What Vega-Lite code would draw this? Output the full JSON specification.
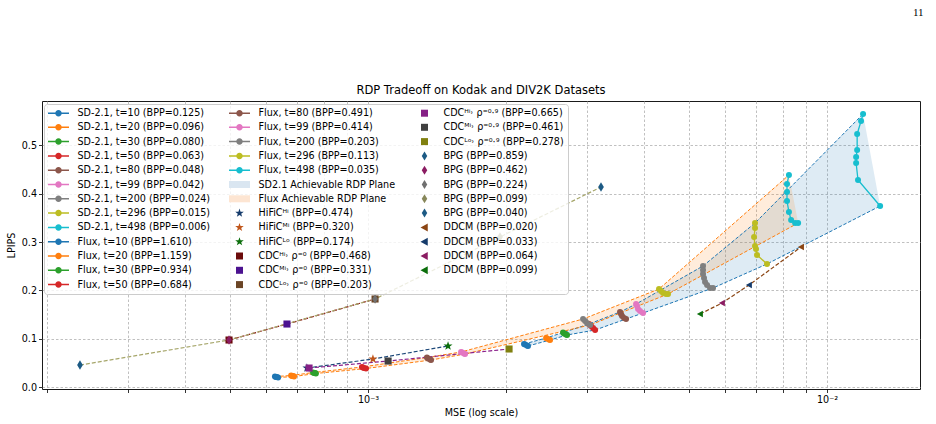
{
  "$schema": "https://vega.github.io/schema/vega-lite/v6.json",
  "width": 878,
  "height": 288,
  "autosize": {"type": "none"},
  "padding": {"left": 42, "top": 101, "right": 16, "bottom": 35},
  "background": "white",
  "title": {"text": "RDP Tradeoff on Kodak and DIV2K Datasets", "font": "DejaVu Sans", "fontSize": 11.5, "fontWeight": "normal", "color": "#000000", "anchor": "middle", "offset": 5, "dy": 95},
  "config": {
    "font": "DejaVu Sans",
    "view": {"stroke": "#1a1a1a", "strokeWidth": 1},
    "axis": {
      "domain": false, "gridColor": "#b0b0b0", "gridDash": [2.5, 2], "gridWidth": 0.8,
      "tickColor": "#000000", "tickWidth": 0.8, "tickSize": 3.5,
      "labelColor": "#000000", "titleColor": "#000000", "labelFont": "DejaVu Sans", "titleFont": "DejaVu Sans",
      "labelFontSize": 9.6, "titleFontSize": 9.6, "titleFontWeight": "normal"
    }
  },
  "datasets": {
    "curves": [
      {"series": "SD-2.1, t=10 (BPP=0.125)", "model": "SD", "t": 10, "i": 1, "mse": 0.002187, "lpips": 0.0890},
      {"series": "SD-2.1, t=10 (BPP=0.125)", "model": "SD", "t": 10, "i": 2, "mse": 0.002198, "lpips": 0.0880},
      {"series": "SD-2.1, t=10 (BPP=0.125)", "model": "SD", "t": 10, "i": 3, "mse": 0.002220, "lpips": 0.0859},
      {"series": "SD-2.1, t=10 (BPP=0.125)", "model": "SD", "t": 10, "i": 4, "mse": 0.002231, "lpips": 0.0849},
      {"series": "SD-2.1, t=20 (BPP=0.096)", "model": "SD", "t": 20, "i": 1, "mse": 0.002443, "lpips": 0.1014},
      {"series": "SD-2.1, t=20 (BPP=0.096)", "model": "SD", "t": 20, "i": 2, "mse": 0.002455, "lpips": 0.1004},
      {"series": "SD-2.1, t=20 (BPP=0.096)", "model": "SD", "t": 20, "i": 3, "mse": 0.002479, "lpips": 0.0983},
      {"series": "SD-2.1, t=20 (BPP=0.096)", "model": "SD", "t": 20, "i": 4, "mse": 0.002492, "lpips": 0.0973},
      {"series": "SD-2.1, t=30 (BPP=0.080)", "model": "SD", "t": 30, "i": 1, "mse": 0.002660, "lpips": 0.1128},
      {"series": "SD-2.1, t=30 (BPP=0.080)", "model": "SD", "t": 30, "i": 2, "mse": 0.002673, "lpips": 0.1108},
      {"series": "SD-2.1, t=30 (BPP=0.080)", "model": "SD", "t": 30, "i": 3, "mse": 0.002700, "lpips": 0.1087},
      {"series": "SD-2.1, t=30 (BPP=0.080)", "model": "SD", "t": 30, "i": 4, "mse": 0.002714, "lpips": 0.1077},
      {"series": "SD-2.1, t=50 (BPP=0.063)", "model": "SD", "t": 50, "i": 1, "mse": 0.003031, "lpips": 0.1304},
      {"series": "SD-2.1, t=50 (BPP=0.063)", "model": "SD", "t": 50, "i": 2, "mse": 0.003061, "lpips": 0.1263},
      {"series": "SD-2.1, t=50 (BPP=0.063)", "model": "SD", "t": 50, "i": 3, "mse": 0.003093, "lpips": 0.1222},
      {"series": "SD-2.1, t=50 (BPP=0.063)", "model": "SD", "t": 50, "i": 4, "mse": 0.003124, "lpips": 0.1180},
      {"series": "SD-2.1, t=80 (BPP=0.048)", "model": "SD", "t": 80, "i": 1, "mse": 0.003540, "lpips": 0.1553},
      {"series": "SD-2.1, t=80 (BPP=0.048)", "model": "SD", "t": 80, "i": 2, "mse": 0.003558, "lpips": 0.1511},
      {"series": "SD-2.1, t=80 (BPP=0.048)", "model": "SD", "t": 80, "i": 3, "mse": 0.003576, "lpips": 0.1470},
      {"series": "SD-2.1, t=80 (BPP=0.048)", "model": "SD", "t": 80, "i": 4, "mse": 0.003612, "lpips": 0.1429},
      {"series": "SD-2.1, t=80 (BPP=0.048)", "model": "SD", "t": 80, "i": 5, "mse": 0.003649, "lpips": 0.1408},
      {"series": "SD-2.1, t=99 (BPP=0.042)", "model": "SD", "t": 99, "i": 1, "mse": 0.003837, "lpips": 0.1718},
      {"series": "SD-2.1, t=99 (BPP=0.042)", "model": "SD", "t": 99, "i": 2, "mse": 0.003856, "lpips": 0.1677},
      {"series": "SD-2.1, t=99 (BPP=0.042)", "model": "SD", "t": 99, "i": 3, "mse": 0.003875, "lpips": 0.1615},
      {"series": "SD-2.1, t=99 (BPP=0.042)", "model": "SD", "t": 99, "i": 4, "mse": 0.003914, "lpips": 0.1573},
      {"series": "SD-2.1, t=99 (BPP=0.042)", "model": "SD", "t": 99, "i": 5, "mse": 0.003973, "lpips": 0.1532},
      {"series": "SD-2.1, t=200 (BPP=0.024)", "model": "SD", "t": 200, "i": 1, "mse": 0.005368, "lpips": 0.2505},
      {"series": "SD-2.1, t=200 (BPP=0.024)", "model": "SD", "t": 200, "i": 2, "mse": 0.005368, "lpips": 0.2422},
      {"series": "SD-2.1, t=200 (BPP=0.024)", "model": "SD", "t": 200, "i": 3, "mse": 0.005368, "lpips": 0.2340},
      {"series": "SD-2.1, t=200 (BPP=0.024)", "model": "SD", "t": 200, "i": 4, "mse": 0.005395, "lpips": 0.2257},
      {"series": "SD-2.1, t=200 (BPP=0.024)", "model": "SD", "t": 200, "i": 5, "mse": 0.005423, "lpips": 0.2174},
      {"series": "SD-2.1, t=200 (BPP=0.024)", "model": "SD", "t": 200, "i": 6, "mse": 0.005478, "lpips": 0.2112},
      {"series": "SD-2.1, t=200 (BPP=0.024)", "model": "SD", "t": 200, "i": 7, "mse": 0.005561, "lpips": 0.2050},
      {"series": "SD-2.1, t=200 (BPP=0.024)", "model": "SD", "t": 200, "i": 8, "mse": 0.005644, "lpips": 0.2050},
      {"series": "SD-2.1, t=296 (BPP=0.015)", "model": "SD", "t": 296, "i": 1, "mse": 0.006968, "lpips": 0.3395},
      {"series": "SD-2.1, t=296 (BPP=0.015)", "model": "SD", "t": 296, "i": 2, "mse": 0.006968, "lpips": 0.3292},
      {"series": "SD-2.1, t=296 (BPP=0.015)", "model": "SD", "t": 296, "i": 3, "mse": 0.006934, "lpips": 0.3106},
      {"series": "SD-2.1, t=296 (BPP=0.015)", "model": "SD", "t": 296, "i": 4, "mse": 0.006968, "lpips": 0.2919},
      {"series": "SD-2.1, t=296 (BPP=0.015)", "model": "SD", "t": 296, "i": 5, "mse": 0.007003, "lpips": 0.2857},
      {"series": "SD-2.1, t=296 (BPP=0.015)", "model": "SD", "t": 296, "i": 6, "mse": 0.007038, "lpips": 0.2733},
      {"series": "SD-2.1, t=296 (BPP=0.015)", "model": "SD", "t": 296, "i": 7, "mse": 0.007400, "lpips": 0.2547},
      {"series": "SD-2.1, t=498 (BPP=0.006)", "model": "SD", "t": 498, "i": 1, "mse": 0.01198, "lpips": 0.5652},
      {"series": "SD-2.1, t=498 (BPP=0.006)", "model": "SD", "t": 498, "i": 2, "mse": 0.01186, "lpips": 0.5507},
      {"series": "SD-2.1, t=498 (BPP=0.006)", "model": "SD", "t": 498, "i": 3, "mse": 0.01163, "lpips": 0.5238},
      {"series": "SD-2.1, t=498 (BPP=0.006)", "model": "SD", "t": 498, "i": 4, "mse": 0.01163, "lpips": 0.4907},
      {"series": "SD-2.1, t=498 (BPP=0.006)", "model": "SD", "t": 498, "i": 5, "mse": 0.01157, "lpips": 0.4762},
      {"series": "SD-2.1, t=498 (BPP=0.006)", "model": "SD", "t": 498, "i": 6, "mse": 0.01157, "lpips": 0.4638},
      {"series": "SD-2.1, t=498 (BPP=0.006)", "model": "SD", "t": 498, "i": 7, "mse": 0.01168, "lpips": 0.4286},
      {"series": "SD-2.1, t=498 (BPP=0.006)", "model": "SD", "t": 498, "i": 8, "mse": 0.01305, "lpips": 0.3747},
      {"series": "Flux, t=10 (BPP=1.610)", "model": "Flux", "t": 10, "i": 1, "mse": 0.000627, "lpips": 0.0217},
      {"series": "Flux, t=10 (BPP=1.610)", "model": "Flux", "t": 10, "i": 2, "mse": 0.000630, "lpips": 0.0207},
      {"series": "Flux, t=10 (BPP=1.610)", "model": "Flux", "t": 10, "i": 3, "mse": 0.000633, "lpips": 0.0207},
      {"series": "Flux, t=10 (BPP=1.610)", "model": "Flux", "t": 10, "i": 4, "mse": 0.000637, "lpips": 0.0197},
      {"series": "Flux, t=20 (BPP=1.159)", "model": "Flux", "t": 20, "i": 1, "mse": 0.000680, "lpips": 0.0238},
      {"series": "Flux, t=20 (BPP=1.159)", "model": "Flux", "t": 20, "i": 2, "mse": 0.000683, "lpips": 0.0228},
      {"series": "Flux, t=20 (BPP=1.159)", "model": "Flux", "t": 20, "i": 3, "mse": 0.000687, "lpips": 0.0228},
      {"series": "Flux, t=20 (BPP=1.159)", "model": "Flux", "t": 20, "i": 4, "mse": 0.000690, "lpips": 0.0217},
      {"series": "Flux, t=30 (BPP=0.934)", "model": "Flux", "t": 30, "i": 1, "mse": 0.000759, "lpips": 0.0300},
      {"series": "Flux, t=30 (BPP=0.934)", "model": "Flux", "t": 30, "i": 2, "mse": 0.000763, "lpips": 0.0290},
      {"series": "Flux, t=30 (BPP=0.934)", "model": "Flux", "t": 30, "i": 3, "mse": 0.000767, "lpips": 0.0290},
      {"series": "Flux, t=30 (BPP=0.934)", "model": "Flux", "t": 30, "i": 4, "mse": 0.000770, "lpips": 0.0280},
      {"series": "Flux, t=50 (BPP=0.684)", "model": "Flux", "t": 50, "i": 1, "mse": 0.000970, "lpips": 0.0414},
      {"series": "Flux, t=50 (BPP=0.684)", "model": "Flux", "t": 50, "i": 2, "mse": 0.000975, "lpips": 0.0404},
      {"series": "Flux, t=50 (BPP=0.684)", "model": "Flux", "t": 50, "i": 3, "mse": 0.000980, "lpips": 0.0393},
      {"series": "Flux, t=50 (BPP=0.684)", "model": "Flux", "t": 50, "i": 4, "mse": 0.000990, "lpips": 0.0383},
      {"series": "Flux, t=80 (BPP=0.491)", "model": "Flux", "t": 80, "i": 1, "mse": 0.001344, "lpips": 0.0611},
      {"series": "Flux, t=80 (BPP=0.491)", "model": "Flux", "t": 80, "i": 2, "mse": 0.001351, "lpips": 0.0590},
      {"series": "Flux, t=80 (BPP=0.491)", "model": "Flux", "t": 80, "i": 3, "mse": 0.001365, "lpips": 0.0569},
      {"series": "Flux, t=80 (BPP=0.491)", "model": "Flux", "t": 80, "i": 4, "mse": 0.001372, "lpips": 0.0559},
      {"series": "Flux, t=99 (BPP=0.414)", "model": "Flux", "t": 99, "i": 1, "mse": 0.001595, "lpips": 0.0725},
      {"series": "Flux, t=99 (BPP=0.414)", "model": "Flux", "t": 99, "i": 2, "mse": 0.001603, "lpips": 0.0714},
      {"series": "Flux, t=99 (BPP=0.414)", "model": "Flux", "t": 99, "i": 3, "mse": 0.001619, "lpips": 0.0694},
      {"series": "Flux, t=99 (BPP=0.414)", "model": "Flux", "t": 99, "i": 4, "mse": 0.001627, "lpips": 0.0683},
      {"series": "Flux, t=200 (BPP=0.203)", "model": "Flux", "t": 200, "i": 1, "mse": 0.002941, "lpips": 0.1408},
      {"series": "Flux, t=200 (BPP=0.203)", "model": "Flux", "t": 200, "i": 2, "mse": 0.002971, "lpips": 0.1366},
      {"series": "Flux, t=200 (BPP=0.203)", "model": "Flux", "t": 200, "i": 3, "mse": 0.003000, "lpips": 0.1325},
      {"series": "Flux, t=200 (BPP=0.203)", "model": "Flux", "t": 200, "i": 4, "mse": 0.003047, "lpips": 0.1284},
      {"series": "Flux, t=296 (BPP=0.113)", "model": "Flux", "t": 296, "i": 1, "mse": 0.004305, "lpips": 0.2029},
      {"series": "Flux, t=296 (BPP=0.113)", "model": "Flux", "t": 296, "i": 2, "mse": 0.004348, "lpips": 0.1988},
      {"series": "Flux, t=296 (BPP=0.113)", "model": "Flux", "t": 296, "i": 3, "mse": 0.004393, "lpips": 0.1946},
      {"series": "Flux, t=296 (BPP=0.113)", "model": "Flux", "t": 296, "i": 4, "mse": 0.004459, "lpips": 0.1925},
      {"series": "Flux, t=296 (BPP=0.113)", "model": "Flux", "t": 296, "i": 5, "mse": 0.004504, "lpips": 0.1925},
      {"series": "Flux, t=498 (BPP=0.035)", "model": "Flux", "t": 498, "i": 1, "mse": 0.00826, "lpips": 0.4389},
      {"series": "Flux, t=498 (BPP=0.035)", "model": "Flux", "t": 498, "i": 2, "mse": 0.00818, "lpips": 0.4203},
      {"series": "Flux, t=498 (BPP=0.035)", "model": "Flux", "t": 498, "i": 3, "mse": 0.00818, "lpips": 0.4037},
      {"series": "Flux, t=498 (BPP=0.035)", "model": "Flux", "t": 498, "i": 4, "mse": 0.00818, "lpips": 0.3851},
      {"series": "Flux, t=498 (BPP=0.035)", "model": "Flux", "t": 498, "i": 5, "mse": 0.00826, "lpips": 0.3623},
      {"series": "Flux, t=498 (BPP=0.035)", "model": "Flux", "t": 498, "i": 6, "mse": 0.00835, "lpips": 0.3458},
      {"series": "Flux, t=498 (BPP=0.035)", "model": "Flux", "t": 498, "i": 7, "mse": 0.00852, "lpips": 0.3395},
      {"series": "Flux, t=498 (BPP=0.035)", "model": "Flux", "t": 498, "i": 8, "mse": 0.00865, "lpips": 0.3395}
    ],
    "codecs": [
      {"series": "HiFiCᴴⁱ (BPP=0.474)", "method": "HiFiC", "i": 1, "mse": 0.000736, "lpips": 0.0393},
      {"series": "HiFiCᴹⁱ (BPP=0.320)", "method": "HiFiC", "i": 2, "mse": 0.001025, "lpips": 0.0580},
      {"series": "HiFiCᴸᵒ (BPP=0.174)", "method": "HiFiC", "i": 3, "mse": 0.001494, "lpips": 0.0849},
      {"series": "CDCᴴⁱ˒ ρ⁼⁰ (BPP=0.468)", "method": "CDC0", "i": 1, "mse": 0.000498, "lpips": 0.0973},
      {"series": "CDCᴹⁱ˒ ρ⁼⁰ (BPP=0.331)", "method": "CDC0", "i": 2, "mse": 0.000666, "lpips": 0.1304},
      {"series": "CDCᴸᵒ˒ ρ⁼⁰ (BPP=0.203)", "method": "CDC0", "i": 3, "mse": 0.001036, "lpips": 0.1822},
      {"series": "CDCᴴⁱ˒ ρ⁼⁰·⁹ (BPP=0.665)", "method": "CDC9", "i": 1, "mse": 0.000744, "lpips": 0.0393},
      {"series": "CDCᴹⁱ˒ ρ⁼⁰·⁹ (BPP=0.461)", "method": "CDC9", "i": 2, "mse": 0.001106, "lpips": 0.0538},
      {"series": "CDCᴸᵒ˒ ρ⁼⁰·⁹ (BPP=0.278)", "method": "CDC9", "i": 3, "mse": 0.002029, "lpips": 0.0787},
      {"series": "BPG (BPP=0.859)", "method": "BPG", "i": 1, "mse": 0.0002358, "lpips": 0.0455},
      {"series": "BPG (BPP=0.462)", "method": "BPG", "i": 2, "mse": 0.000498, "lpips": 0.0973},
      {"series": "BPG (BPP=0.224)", "method": "BPG", "i": 3, "mse": 0.001036, "lpips": 0.1822},
      {"series": "BPG (BPP=0.099)", "method": "BPG", "i": 4, "mse": 0.001939, "lpips": 0.3106},
      {"series": "BPG (BPP=0.040)", "method": "BPG", "i": 5, "mse": 0.003218, "lpips": 0.4141},
      {"series": "DDCM (BPP=0.099)", "method": "DDCM", "i": 1, "mse": 0.005288, "lpips": 0.1511},
      {"series": "DDCM (BPP=0.064)", "method": "DDCM", "i": 2, "mse": 0.005905, "lpips": 0.1739},
      {"series": "DDCM (BPP=0.033)", "method": "DDCM", "i": 3, "mse": 0.006762, "lpips": 0.2112},
      {"series": "DDCM (BPP=0.020)", "method": "DDCM", "i": 4, "mse": 0.008779, "lpips": 0.2899}
    ]
  },
  "encoding": {
    "x": {"field": "mse", "type": "quantitative", "scale": {"type": "log", "domain": [0.0001949, 0.01594], "nice": false}, "axis": null},
    "y": {
      "field": "lpips", "type": "quantitative",
      "scale": {"domain": [-0.0041, 0.5921], "nice": false, "zero": false},
      "axis": {"title": "LPIPS", "grid": true, "values": [0, 0.1, 0.2, 0.3, 0.4, 0.5], "format": ".1f", "labelPadding": 2, "titlePadding": 5}
    },
    "color": {
      "field": "series", "type": "nominal",
      "scale": {
        "domain": [
          "SD-2.1, t=10 (BPP=0.125)", "SD-2.1, t=20 (BPP=0.096)", "SD-2.1, t=30 (BPP=0.080)", "SD-2.1, t=50 (BPP=0.063)",
          "SD-2.1, t=80 (BPP=0.048)", "SD-2.1, t=99 (BPP=0.042)", "SD-2.1, t=200 (BPP=0.024)", "SD-2.1, t=296 (BPP=0.015)",
          "SD-2.1, t=498 (BPP=0.006)", "Flux, t=10 (BPP=1.610)", "Flux, t=20 (BPP=1.159)", "Flux, t=30 (BPP=0.934)",
          "Flux, t=50 (BPP=0.684)",
          "Flux, t=80 (BPP=0.491)", "Flux, t=99 (BPP=0.414)", "Flux, t=200 (BPP=0.203)", "Flux, t=296 (BPP=0.113)",
          "Flux, t=498 (BPP=0.035)", "SD2.1 Achievable RDP Plane", "Flux Achievable RDP Plane",
          "HiFiCᴴⁱ (BPP=0.474)", "HiFiCᴹⁱ (BPP=0.320)", "HiFiCᴸᵒ (BPP=0.174)",
          "CDCᴴⁱ˒ ρ⁼⁰ (BPP=0.468)", "CDCᴹⁱ˒ ρ⁼⁰ (BPP=0.331)", "CDCᴸᵒ˒ ρ⁼⁰ (BPP=0.203)",
          "CDCᴴⁱ˒ ρ⁼⁰·⁹ (BPP=0.665)", "CDCᴹⁱ˒ ρ⁼⁰·⁹ (BPP=0.461)", "CDCᴸᵒ˒ ρ⁼⁰·⁹ (BPP=0.278)",
          "BPG (BPP=0.859)", "BPG (BPP=0.462)", "BPG (BPP=0.224)", "BPG (BPP=0.099)", "BPG (BPP=0.040)",
          "DDCM (BPP=0.020)", "DDCM (BPP=0.033)", "DDCM (BPP=0.064)", "DDCM (BPP=0.099)"
        ],
        "range": [
          "#1f77b4", "#ff7f0e", "#2ca02c", "#d62728",
          "#8c564b", "#e377c2", "#7f7f7f", "#bcbd22",
          "#17becf", "#1f77b4", "#ff7f0e", "#2ca02c",
          "#d62728",
          "#8c564b", "#e377c2", "#7f7f7f", "#bcbd22",
          "#17becf", "#dae6f1", "#fde5d2",
          "#153b6b", "#c0561b", "#0b6e0b",
          "#6b0b0b", "#4b1290", "#6b4526",
          "#862086", "#404040", "#808010",
          "#1c5a84", "#8b1c62", "#707070", "#87875a", "#1c5a84",
          "#8b4513", "#153b6b", "#8b1c62", "#0b6e0b"
        ]
      },
      "legend": {
        "title": null, "orient": "none", "legendX": 2, "legendY": 3, "columns": 3, "direction": "vertical",
        "symbolLimit": 100, "columnPadding": 18, "rowPadding": 4.3, "gridAlign": "each",
        "symbolSize": 100, "symbolStrokeWidth": 0, "symbolOffset": 5.5, "labelOffset": 14,
        "labelFont": "DejaVu Sans", "labelFontSize": 9.6, "labelColor": "#000000", "labelLimit": 400,
        "padding": 4, "fillColor": "rgba(255,255,255,0.8)", "strokeColor": "#cccccc", "cornerRadius": 3,
        "encode": {
          "symbols": {
            "update": {
              "shape": {"signal": "indexof(datum.value, 'SD-2.1,') == 0 || indexof(datum.value, 'Flux,') == 0 ? 'M-2.1,-0.15L2.1,-0.15L2.1,0.15L-2.1,0.15ZM0.65,0A0.65,0.65,0,1,1,-0.65,0A0.65,0.65,0,1,1,0.65,0Z' : indexof(datum.value, 'Plane') >= 0 ? 'M-2.1,-0.7L2.1,-0.7L2.1,0.7L-2.1,0.7Z' : indexof(datum.value, 'HiFiC') == 0 ? 'M0,-0.9L0.212,-0.292L0.856,-0.278L0.342,0.112L0.529,0.728L0,0.36L-0.529,0.728L-0.342,0.112L-0.856,-0.278L-0.212,-0.292Z' : indexof(datum.value, 'CDC') == 0 ? 'M-0.7,-0.7L0.7,-0.7L0.7,0.7L-0.7,0.7Z' : indexof(datum.value, 'BPG') == 0 ? 'M0,-0.9L0.55,0L0,0.9L-0.55,0Z' : 'M-0.8,0L0.65,-0.8L0.65,0.8Z'"},
              "fill": {"scale": "color", "field": "value"},
              "stroke": {"value": "transparent"},
              "strokeWidth": {"value": 0},
              "opacity": {"value": 1},
              "size": {"value": 100}
            }
          }
        }
      }
    }
  },
  "resolve": {"axis": {"x": "independent"}},
  "layer": [
    {
      "data": {"name": "curves"},
      "transform": [
        {"filter": "datum.model == 'SD'"},
        {"joinaggregate": [{"op": "max", "field": "i", "as": "n"}], "groupby": ["series"]},
        {"filter": "datum.i == 1 || datum.i == datum.n"},
        {"calculate": "datum.i == 1 ? datum.t : 10000 - datum.t", "as": "ord"}
      ],
      "mark": {"type": "line", "fill": "#1f77b4", "fillOpacity": 0.15, "strokeWidth": 0},
      "encoding": {"color": {"value": "transparent"}, "order": {"field": "ord", "type": "quantitative"}}
    },
    {
      "data": {"name": "curves"},
      "transform": [
        {"filter": "datum.model == 'Flux'"},
        {"joinaggregate": [{"op": "max", "field": "i", "as": "n"}], "groupby": ["series"]},
        {"filter": "datum.i == 1 || datum.i == datum.n"},
        {"calculate": "datum.i == 1 ? datum.t : 10000 - datum.t", "as": "ord"}
      ],
      "mark": {"type": "line", "fill": "#ff7f0e", "fillOpacity": 0.15, "strokeWidth": 0},
      "encoding": {"color": {"value": "transparent"}, "order": {"field": "ord", "type": "quantitative"}}
    },
    {
      "data": {"name": "curves"},
      "transform": [
        {"filter": "datum.model == 'SD'"},
        {"joinaggregate": [{"op": "max", "field": "i", "as": "n"}], "groupby": ["series"]},
        {"filter": "datum.i == 1 || datum.i == datum.n"},
        {"calculate": "datum.i == 1 ? 'upper' : 'lower'", "as": "edge"}
      ],
      "mark": {"type": "line", "strokeWidth": 1, "strokeDash": [3.5, 1.8]},
      "encoding": {"color": {"value": "#1f77b4"}, "detail": {"field": "edge"}, "order": {"field": "t", "type": "quantitative"}}
    },
    {
      "data": {"name": "curves"},
      "transform": [
        {"filter": "datum.model == 'Flux'"},
        {"joinaggregate": [{"op": "max", "field": "i", "as": "n"}], "groupby": ["series"]},
        {"filter": "datum.i == 1 || datum.i == datum.n"},
        {"calculate": "datum.i == 1 ? 'upper' : 'lower'", "as": "edge"}
      ],
      "mark": {"type": "line", "strokeWidth": 1, "strokeDash": [3.5, 1.8]},
      "encoding": {"color": {"value": "#ff7f0e"}, "detail": {"field": "edge"}, "order": {"field": "t", "type": "quantitative"}}
    },
    {
      "data": {"name": "codecs"},
      "mark": {"type": "line", "strokeWidth": 1.2, "strokeDash": [4, 2]},
      "encoding": {
        "color": {"value": "#000000"},
        "stroke": {"field": "method", "type": "nominal", "scale": {"domain": ["HiFiC", "CDC0", "CDC9", "BPG", "DDCM"], "range": ["#1f4a7a", "#8b1010", "#8b208b", "#a6a66a", "#8b4513"]}, "legend": null},
        "detail": {"field": "method"},
        "order": {"field": "i", "type": "quantitative"}
      }
    },
    {
      "data": {"name": "curves"},
      "mark": {"type": "line", "strokeWidth": 1.3},
      "encoding": {"detail": {"field": "series"}, "order": {"field": "i", "type": "quantitative"}}
    },
    {
      "data": {"name": "curves"},
      "mark": {"type": "point", "shape": "circle", "filled": true, "size": 36, "opacity": 1, "strokeWidth": 0},
      "encoding": {
        "x": {
          "field": "mse", "type": "quantitative",
          "scale": {"type": "log", "domain": [0.0001949, 0.01594], "nice": false},
          "axis": {
            "title": "MSE (log scale)", "grid": true, "labelPadding": 2, "titlePadding": 3,
            "values": [0.0002, 0.0003, 0.0004, 0.0005, 0.0006, 0.0007, 0.0008, 0.0009, 0.001, 0.002, 0.003, 0.004, 0.005, 0.006, 0.007, 0.008, 0.009, 0.01],
            "labelExpr": "datum.value == 0.001 ? '10⁻³' : datum.value == 0.01 ? '10⁻²' : ''",
            "encode": {"ticks": {"update": {"y2": {"signal": "datum.value == 0.001 || datum.value == 0.01 ? 3.5 : 2"}}}}
          }
        }
      }
    },
    {
      "data": {"name": "codecs"},
      "transform": [{"filter": "datum.method == 'HiFiC'"}],
      "mark": {"type": "point", "shape": "M0,-1L0.235,-0.324L0.951,-0.309L0.38,0.124L0.588,0.809L0,0.4L-0.588,0.809L-0.38,0.124L-0.951,-0.309L-0.235,-0.324Z", "filled": true, "size": 90, "opacity": 1, "strokeWidth": 0},
      "encoding": {
        "x": {
          "field": "mse", "type": "quantitative",
          "scale": {"type": "log", "domain": [0.0001949, 0.01594], "nice": false},
          "axis": {"orient": "top", "title": "11", "labels": false, "ticks": false, "grid": false, "domain": false,
                   "titleFont": "Liberation Serif", "titleFontSize": 11, "titleAnchor": "end", "titleAlign": "right",
                   "titleBaseline": "middle", "titleX": 881, "titleY": -89}
        }
      }
    },
    {
      "data": {"name": "codecs"},
      "transform": [{"filter": "datum.method == 'CDC0' || datum.method == 'CDC9'"}],
      "mark": {"type": "point", "shape": "square", "filled": true, "size": 50, "opacity": 1, "strokeWidth": 0}
    },
    {
      "data": {"name": "codecs"},
      "transform": [{"filter": "datum.method == 'BPG'"}],
      "mark": {"type": "point", "shape": "M0,-1L0.6,0L0,1L-0.6,0Z", "filled": true, "size": 90, "opacity": 1, "strokeWidth": 0}
    },
    {
      "data": {"name": "codecs"},
      "transform": [{"filter": "datum.method == 'DDCM'"}],
      "mark": {"type": "point", "shape": "M-0.9,0L0.8,-0.9L0.8,0.9Z", "filled": true, "size": 50, "opacity": 1, "strokeWidth": 0}
    }
  ]
}
